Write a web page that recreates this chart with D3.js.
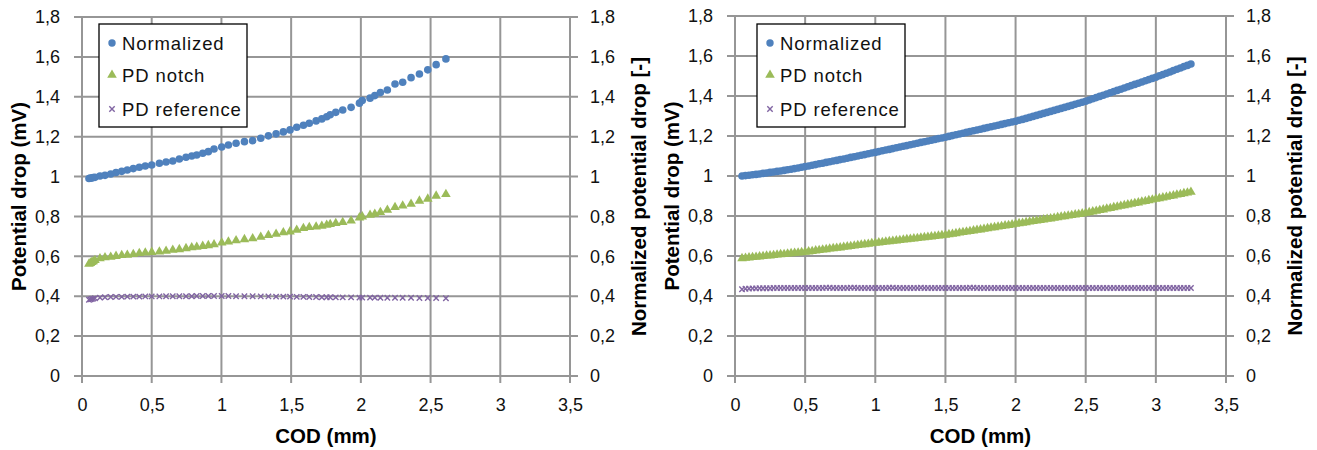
<!DOCTYPE html>
<html>
<head>
<meta charset="utf-8">
<script src="https://cdn.jsdelivr.net/npm/d3@7"></script>
<style>
  body { margin: 0; background: #fff; }
  svg { display: block; font-family: "Liberation Sans", Arial, sans-serif; }
</style>
</head>
<body>
<svg id="root" width="1317" height="450"></svg>
<script>
// series names + tick values
const seriesNames = ['Normalized', 'PD notch', 'PD reference'];
const xTicks = [0, 0.5, 1, 1.5, 2, 2.5, 3, 3.5];
const yTicks = [0, 0.2, 0.4, 0.6, 0.8, 1, 1.2, 1.4, 1.6, 1.8];
const xTitle = 'COD (mm)';
const yTitleLeft = 'Potential drop (mV)';
const yTitleRight = 'Normalized potential drop [-]';

// left chart (COD in mm)
const codLeft = [0.05, 0.06, 0.07, 0.08, 0.093, 0.129, 0.165, 0.206, 0.244, 0.285,
  0.325, 0.368, 0.411, 0.454, 0.5, 0.555, 0.603, 0.651, 0.698, 0.746,
  0.787, 0.823, 0.866, 0.906, 0.947, 1.002, 1.05, 1.105, 1.165, 1.224,
  1.282, 1.337, 1.392, 1.444, 1.492, 1.54, 1.588, 1.63, 1.679, 1.72,
  1.755, 1.78, 1.82, 1.87, 1.93, 1.99, 2.01, 2.066, 2.1, 2.14,
  2.19, 2.245, 2.3, 2.36, 2.42, 2.48, 2.54, 2.61];
const normLeft = [0.990, 0.992, 0.993, 0.995, 0.996, 1.003, 1.006, 1.013, 1.020, 1.026,
  1.033, 1.040, 1.047, 1.053, 1.058, 1.067, 1.073, 1.078, 1.088, 1.097,
  1.103, 1.108, 1.117, 1.125, 1.138, 1.148, 1.158, 1.167, 1.175, 1.180,
  1.192, 1.204, 1.214, 1.224, 1.234, 1.247, 1.257, 1.267, 1.279, 1.289,
  1.300, 1.310, 1.322, 1.334, 1.347, 1.368, 1.381, 1.393, 1.406, 1.421,
  1.434, 1.464, 1.473, 1.496, 1.514, 1.535, 1.561, 1.590];
const notchLeft = [0.562, 0.566, 0.570, 0.574, 0.580, 0.589, 0.594, 0.597, 0.601, 0.605,
  0.607, 0.610, 0.615, 0.618, 0.621, 0.623, 0.627, 0.632, 0.635, 0.640,
  0.644, 0.647, 0.651, 0.655, 0.659, 0.668, 0.673, 0.679, 0.685, 0.689,
  0.697, 0.706, 0.712, 0.719, 0.724, 0.732, 0.741, 0.746, 0.748, 0.752,
  0.757, 0.761, 0.766, 0.771, 0.778, 0.794, 0.799, 0.807, 0.812, 0.821,
  0.832, 0.846, 0.854, 0.862, 0.878, 0.888, 0.903, 0.911];
const refLeft = [0.382, 0.384, 0.386, 0.388, 0.390, 0.393, 0.395, 0.396, 0.397, 0.397,
  0.398, 0.398, 0.398, 0.399, 0.399, 0.399, 0.400, 0.400, 0.400, 0.400,
  0.400, 0.401, 0.401, 0.401, 0.401, 0.401, 0.401, 0.400, 0.400, 0.400,
  0.399, 0.399, 0.398, 0.398, 0.398, 0.397, 0.397, 0.396, 0.396, 0.395,
  0.395, 0.395, 0.394, 0.394, 0.394, 0.393, 0.393, 0.393, 0.393, 0.392,
  0.392, 0.392, 0.392, 0.392, 0.391, 0.391, 0.391, 0.390];

// right chart (COD in mm)
const codRight = [0.05, 0.075, 0.1, 0.125, 0.15, 0.175, 0.2, 0.225, 0.25, 0.275, 0.3, 0.325, 0.35, 0.375, 0.4, 0.425, 0.45, 0.475, 0.5,
  0.525, 0.55, 0.575, 0.6, 0.625, 0.65, 0.675, 0.7, 0.725, 0.75, 0.775, 0.8, 0.825, 0.85, 0.875, 0.9, 0.925, 0.95, 0.975, 1,
  1.025, 1.05, 1.075, 1.1, 1.125, 1.15, 1.175, 1.2, 1.225, 1.25, 1.275, 1.3, 1.325, 1.35, 1.375, 1.4, 1.425, 1.45, 1.475, 1.5,
  1.525, 1.55, 1.575, 1.6, 1.625, 1.65, 1.675, 1.7, 1.725, 1.75, 1.775, 1.8, 1.825, 1.85, 1.875, 1.9, 1.925, 1.95, 1.975, 2,
  2.025, 2.05, 2.075, 2.1, 2.125, 2.15, 2.175, 2.2, 2.225, 2.25, 2.275, 2.3, 2.325, 2.35, 2.375, 2.4, 2.425, 2.45, 2.475, 2.5,
  2.525, 2.55, 2.575, 2.6, 2.625, 2.65, 2.675, 2.7, 2.725, 2.75, 2.775, 2.8, 2.825, 2.85, 2.875, 2.9, 2.925, 2.95, 2.975, 3,
  3.025, 3.05, 3.075, 3.1, 3.125, 3.15, 3.175, 3.2, 3.225, 3.25];
const normRight = [1.000, 1.002, 1.004, 1.006, 1.008, 1.010, 1.013, 1.015, 1.018, 1.020, 1.023, 1.025, 1.028, 1.031, 1.034, 1.037, 1.040, 1.044, 1.047,
  1.050, 1.054, 1.057, 1.061, 1.064, 1.068, 1.071, 1.075, 1.078, 1.082, 1.085, 1.089, 1.093, 1.096, 1.100, 1.104, 1.107, 1.111, 1.115, 1.118,
  1.122, 1.126, 1.130, 1.133, 1.137, 1.141, 1.145, 1.149, 1.152, 1.156, 1.160, 1.164, 1.168, 1.171, 1.175, 1.179, 1.183, 1.187, 1.190, 1.194,
  1.198, 1.202, 1.206, 1.210, 1.214, 1.218, 1.222, 1.226, 1.230, 1.234, 1.238, 1.242, 1.246, 1.250, 1.254, 1.258, 1.262, 1.266, 1.270, 1.274,
  1.279, 1.283, 1.288, 1.293, 1.298, 1.303, 1.308, 1.313, 1.318, 1.323, 1.328, 1.333, 1.338, 1.343, 1.348, 1.353, 1.359, 1.364, 1.369, 1.374,
  1.380, 1.386, 1.392, 1.398, 1.404, 1.410, 1.416, 1.422, 1.428, 1.434, 1.440, 1.446, 1.452, 1.458, 1.464, 1.470, 1.476, 1.482, 1.488, 1.494,
  1.501, 1.507, 1.514, 1.520, 1.527, 1.534, 1.540, 1.547, 1.553, 1.560];
const notchRight = [0.588, 0.590, 0.592, 0.594, 0.595, 0.597, 0.599, 0.601, 0.602, 0.604, 0.606, 0.608, 0.609, 0.611, 0.613, 0.615, 0.616, 0.618, 0.620,
  0.622, 0.624, 0.627, 0.629, 0.631, 0.633, 0.636, 0.638, 0.640, 0.642, 0.645, 0.647, 0.649, 0.651, 0.654, 0.656, 0.658, 0.660, 0.663, 0.665,
  0.667, 0.669, 0.671, 0.673, 0.675, 0.677, 0.679, 0.681, 0.683, 0.685, 0.687, 0.689, 0.691, 0.693, 0.695, 0.697, 0.699, 0.701, 0.703, 0.705,
  0.708, 0.710, 0.713, 0.716, 0.719, 0.721, 0.724, 0.727, 0.730, 0.732, 0.735, 0.738, 0.741, 0.743, 0.746, 0.749, 0.752, 0.754, 0.757, 0.760,
  0.763, 0.765, 0.768, 0.771, 0.774, 0.776, 0.779, 0.782, 0.785, 0.787, 0.790, 0.793, 0.796, 0.798, 0.801, 0.804, 0.807, 0.809, 0.812, 0.815,
  0.818, 0.822, 0.825, 0.829, 0.832, 0.836, 0.839, 0.843, 0.846, 0.850, 0.853, 0.857, 0.860, 0.864, 0.867, 0.871, 0.874, 0.878, 0.881, 0.885,
  0.888, 0.892, 0.895, 0.899, 0.902, 0.906, 0.909, 0.913, 0.916, 0.920];
const refRight = [0.434, 0.436, 0.437, 0.438, 0.438, 0.439, 0.439, 0.439, 0.439, 0.440, 0.440, 0.440, 0.440, 0.440, 0.440, 0.440, 0.440, 0.440, 0.440,
  0.440, 0.440, 0.440, 0.440, 0.440, 0.441, 0.441, 0.440, 0.440, 0.440, 0.440, 0.440, 0.441, 0.441, 0.440, 0.440, 0.440, 0.440, 0.440, 0.440,
  0.440, 0.440, 0.440, 0.441, 0.441, 0.440, 0.440, 0.440, 0.440, 0.440, 0.440, 0.440, 0.441, 0.440, 0.440, 0.440, 0.440, 0.440, 0.440, 0.440,
  0.440, 0.440, 0.440, 0.440, 0.440, 0.440, 0.441, 0.441, 0.440, 0.440, 0.440, 0.440, 0.440, 0.440, 0.440, 0.440, 0.440, 0.440, 0.440, 0.440,
  0.440, 0.440, 0.440, 0.440, 0.440, 0.440, 0.440, 0.440, 0.440, 0.440, 0.440, 0.440, 0.440, 0.440, 0.440, 0.440, 0.440, 0.440, 0.440, 0.440,
  0.440, 0.440, 0.440, 0.440, 0.440, 0.440, 0.440, 0.440, 0.440, 0.440, 0.440, 0.440, 0.440, 0.440, 0.440, 0.440, 0.440, 0.440, 0.440, 0.440,
  0.440, 0.440, 0.440, 0.440, 0.440, 0.440, 0.440, 0.440, 0.440, 0.440];

const colors = ['#4F81BD', '#9BBB59', '#8064A2'];
const gridColor = '#969696';
const fmt = d => String(d).replace('.', ',');

const svg = d3.select('#root');

const panels = [
  { left: 82, right: 570, top: 17, bottom: 376, legendX: 99, cod: codLeft, values: [normLeft, notchLeft, refLeft] },
  { left: 735, right: 1226, top: 16, bottom: 376, legendX: 757, cod: codRight, values: [normRight, notchRight, refRight] },
];

const triangle = d3.symbol().type(d3.symbolTriangle).size(40);
const cross = 'M-2.7,-2.7L2.7,2.7M-2.7,2.7L2.7,-2.7';

const drawMarker = (sel, i) => {
  if (i === 0) {
    sel.append('circle').attr('r', 3.7).attr('fill', colors[0]);
  } else if (i === 1) {
    sel.append('path').attr('d', triangle()).attr('fill', colors[1]);
  } else {
    sel.append('path').attr('d', cross).attr('fill', 'none')
      .attr('stroke', colors[2]).attr('stroke-width', 1.4);
  }
};

panels.forEach(p => {
  const x = d3.scaleLinear().domain([0, 3.5]).range([p.left, p.right]);
  const y = d3.scaleLinear().domain([0, 1.8]).range([p.bottom, p.top]);
  const g = svg.append('g');

  // gridlines (with little tick stubs outside the plot)
  g.selectAll('.hgrid').data(yTicks).enter().append('line')
    .attr('x1', x(0) - 8).attr('x2', x(3.5) + 8)
    .attr('y1', d => y(d)).attr('y2', d => y(d))
    .attr('stroke', gridColor).attr('stroke-width', 2);
  g.selectAll('.vgrid').data(xTicks).enter().append('line')
    .attr('x1', d => x(d)).attr('x2', d => x(d))
    .attr('y1', y(1.8)).attr('y2', y(0) + 7)
    .attr('stroke', gridColor).attr('stroke-width', 2);

  const styleAxis = a => {
    a.select('.domain').remove();
    a.selectAll('text').attr('font-size', 18).attr('font-family', null).attr('fill', '#111');
  };

  g.append('g').attr('transform', `translate(${p.left},0)`)
    .call(d3.axisLeft(y).tickValues(yTicks).tickFormat(fmt).tickSize(0).tickPadding(22))
    .call(styleAxis);
  g.append('g').attr('transform', `translate(${p.right},0)`)
    .call(d3.axisRight(y).tickValues(yTicks).tickFormat(fmt).tickSize(0).tickPadding(20))
    .call(styleAxis);
  g.append('g').attr('transform', `translate(0,${p.bottom})`)
    .call(d3.axisBottom(x).tickValues(xTicks).tickFormat(fmt).tickSize(0).tickPadding(22))
    .call(styleAxis);

  // titles
  const mid = (p.top + p.bottom) / 2;
  g.append('text').text(yTitleLeft)
    .attr('transform', `translate(${p.left - 56},${mid}) rotate(-90)`)
    .attr('text-anchor', 'middle').attr('font-weight', 'bold').attr('font-size', 20.5);
  g.append('text').text(yTitleRight)
    .attr('transform', `translate(${p.right + 76},${mid}) rotate(-90)`)
    .attr('text-anchor', 'middle').attr('font-weight', 'bold').attr('font-size', 20.5);
  g.append('text').text(xTitle)
    .attr('x', (p.left + p.right) / 2).attr('y', p.bottom + 67)
    .attr('text-anchor', 'middle').attr('font-weight', 'bold').attr('font-size', 20.5);

  // series, reference first so the others sit on top
  [2, 1, 0].forEach(i => {
    const pts = p.cod.map((c, k) => [c, p.values[i][k]]).filter(d => d[1] !== undefined);
    const s = g.append('g');
    if (i === 0) {
      s.selectAll('circle').data(pts).enter().append('circle')
        .attr('cx', d => x(d[0])).attr('cy', d => y(d[1])).attr('r', 3.8).attr('fill', colors[0]);
    } else if (i === 1) {
      s.selectAll('path').data(pts).enter().append('path')
        .attr('d', triangle()).attr('transform', d => `translate(${x(d[0])},${y(d[1])})`)
        .attr('fill', colors[1]);
    } else {
      s.selectAll('path').data(pts).enter().append('path')
        .attr('d', cross).attr('transform', d => `translate(${x(d[0])},${y(d[1])})`)
        .attr('fill', 'none').attr('stroke', colors[2]).attr('stroke-width', 1.4);
    }
  });

  // legend
  const lg = g.append('g').attr('transform', `translate(${p.legendX},24)`);
  lg.append('rect').attr('width', 148).attr('height', 103)
    .attr('fill', '#fff').attr('stroke', '#000').attr('stroke-width', 1.3);
  const rowY = [19, 51, 85];
  seriesNames.forEach((name, i) => {
    const row = lg.append('g').attr('transform', `translate(13,${rowY[i]})`);
    drawMarker(row, i);
    row.append('text').text(name).attr('x', 10).attr('y', 7)
      .attr('font-size', 18.5).attr('letter-spacing', 0.9).attr('fill', '#111');
  });
});
</script>
</body>
</html>
